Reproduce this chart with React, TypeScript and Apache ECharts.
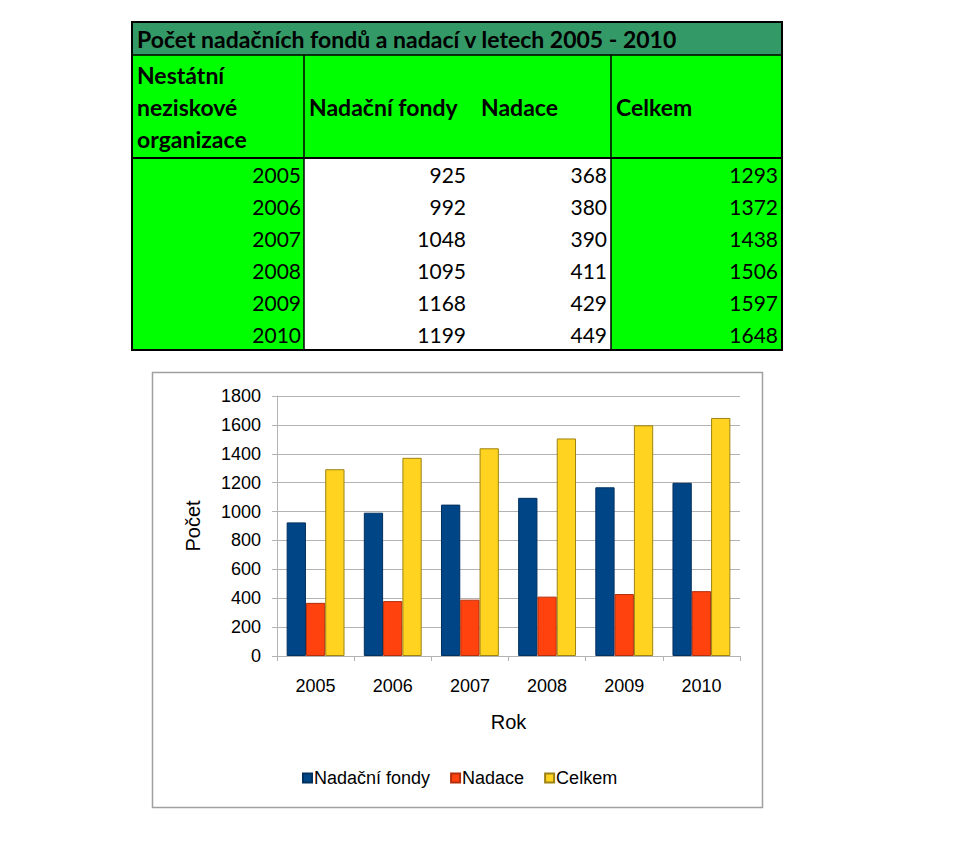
import React, { useEffect, useRef } from "react";
import * as echarts from "echarts";

const years = ["2005", "2006", "2007", "2008", "2009", "2010"];
const nadacniFondy = [925, 992, 1048, 1095, 1168, 1199];
const nadace = [368, 380, 390, 411, 429, 449];
const celkem = [1293, 1372, 1438, 1506, 1597, 1648];
const seriesNames = ["Nadační fondy", "Nadace", "Celkem"];
const tableTitle = "Počet nadačních fondů a nadací v letech 2005 - 2010";
const firstHeader = ["Nestátní", "neziskové", "organizace"];
const xAxisTitle = "Rok";
const yAxisTitle = "Počet";

const TF = "Lato, 'Open Sans', sans-serif";
const CF = "'Liberation Sans', Arial, sans-serif";

function txt(text: string, x: number, y: number, align: string, bold: boolean, size: number) {
  return {
    type: "text",
    silent: true,
    style: {
      text,
      x,
      y,
      align,
      textAlign: align,
      verticalAlign: "middle",
      textVerticalAlign: "middle",
      fill: "#000",
      fontFamily: TF,
      fontSize: size,
      fontWeight: bold ? "bold" : "normal",
    },
  };
}

function buildTable() {
  const L = 132, R = 782, T = 22, H1 = 55, H2 = 158, B = 350;
  const c1 = 304, c2 = 611;
  const rowH = (B - H2) / years.length;
  const els: any[] = [];
  els.push({ type: "rect", shape: { x: L, y: T, width: R - L, height: H1 - T }, style: { fill: "#339966" } });
  els.push({ type: "rect", shape: { x: L, y: H1, width: R - L, height: H2 - H1 }, style: { fill: "#00ff00" } });
  els.push({ type: "rect", shape: { x: L, y: H2, width: c1 - L, height: B - H2 }, style: { fill: "#00ff00" } });
  els.push({ type: "rect", shape: { x: c1, y: H2, width: c2 - c1, height: B - H2 }, style: { fill: "#ffffff" } });
  els.push({ type: "rect", shape: { x: c2, y: H2, width: R - c2, height: B - H2 }, style: { fill: "#00ff00" } });
  const line = (x1: number, y1: number, x2: number, y2: number, w: number) => ({
    type: "line", silent: true, shape: { x1, y1, x2, y2 }, style: { stroke: "#000", lineWidth: w },
  });
  els.push(line(L, H1, R, H1, 1.5));
  els.push(line(L, H2, R, H2, 2));
  els.push(line(c1, H1, c1, B, 1.5));
  els.push(line(c2, H1, c2, B, 1.5));
  els.push({ type: "rect", shape: { x: L, y: T, width: R - L, height: B - T }, style: { fill: "none", stroke: "#000", lineWidth: 2 } });
  els.push(txt(tableTitle, 137, 39, "left", true, 23));
  firstHeader.forEach((t, i) => els.push(txt(t, 137, 75 + i * 32, "left", true, 23)));
  els.push(txt(seriesNames[0], 309, 107, "left", true, 23));
  els.push(txt(seriesNames[1], 481, 107, "left", true, 23));
  els.push(txt(seriesNames[2], 616, 107, "left", true, 23));
  years.forEach((y, i) => {
    const cy = H2 + rowH * i + rowH / 2;
    els.push(txt(y, 301, cy, "right", false, 21));
    els.push(txt(String(nadacniFondy[i]), 466, cy, "right", false, 21));
    els.push(txt(String(nadace[i]), 607, cy, "right", false, 21));
    els.push(txt(String(celkem[i]), 778, cy, "right", false, 21));
  });
  return els;
}

export default function App() {
  const ref = useRef<HTMLDivElement>(null);
  useEffect(() => {
    if (!ref.current) return;
    const chart = echarts.init(ref.current, null, { renderer: "svg" });
    const colors = ["#004586", "#ff420e", "#ffd320"];
    const borders = ["#00305e", "#b32e0a", "#9c8314"];
    const data = [nadacniFondy, nadace, celkem];
    chart.setOption({
      animation: false,
      backgroundColor: "#ffffff",
      graphic: [
        ...buildTable(),
        {
          type: "rect",
          silent: true,
          shape: { x: 152.5, y: 372.5, width: 610, height: 435 },
          style: { fill: "none", stroke: "#a0a0a0", lineWidth: 1.5 },
        },
      ],
      grid: { left: 277, top: 396, width: 463, height: 260, containLabel: false },
      legend: {
        data: seriesNames,
        top: 764,
        left: 297,
        itemWidth: 9,
        itemHeight: 9,
        itemGap: 20,
        icon: "rect",
        textStyle: { fontFamily: CF, fontSize: 18, color: "#000", padding: [0, 0, 0, -3] },
      },
      xAxis: {
        type: "category",
        data: years,
        name: xAxisTitle,
        nameLocation: "middle",
        nameGap: 56,
        nameTextStyle: { fontFamily: CF, fontSize: 20, color: "#000" },
        axisLine: { lineStyle: { color: "#b3b3b3" } },
        axisTick: { show: true, length: 5, lineStyle: { color: "#b3b3b3" } },
        axisLabel: { fontFamily: CF, fontSize: 18, color: "#000", margin: 21 },
      },
      yAxis: {
        type: "value",
        min: 0,
        max: 1800,
        interval: 200,
        name: yAxisTitle,
        nameLocation: "middle",
        nameRotate: 90,
        nameGap: 74,
        nameTextStyle: { fontFamily: CF, fontSize: 20, color: "#000" },
        axisLine: { show: true, lineStyle: { color: "#b3b3b3" } },
        axisTick: { show: true, length: 5, lineStyle: { color: "#b3b3b3" } },
        axisLabel: { fontFamily: CF, fontSize: 18, color: "#000", margin: 16, formatter: (v: number) => String(v) },
        splitLine: { lineStyle: { color: "#b3b3b3" } },
      },
      series: seriesNames.map((n, i) => ({
        name: n,
        type: "bar",
        data: data[i],
        barGap: "0%",
        barCategoryGap: "25%",
        itemStyle: { color: colors[i], borderColor: borders[i], borderWidth: 1 },
      })),
    });
    return () => chart.dispose();
  }, []);
  return <div ref={ref} style={{ position: "fixed", left: 0, top: 0, width: 977, height: 856 }} />;
}
